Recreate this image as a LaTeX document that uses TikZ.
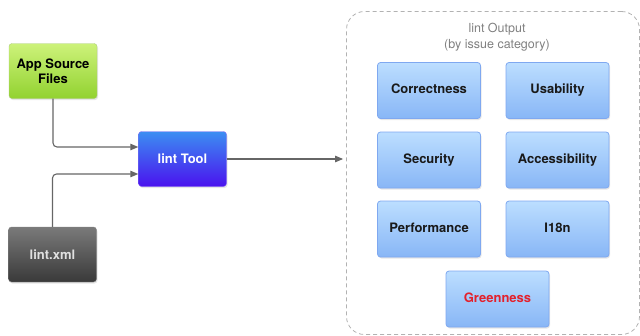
\documentclass[tikz,border=0pt]{standalone}
\usepackage{fontspec}
\setmainfont{TeX Gyre Heros}
\usetikzlibrary{arrows.meta,shadows}

\definecolor{srctop}{HTML}{CDF27A}
\definecolor{srcbot}{HTML}{92D230}
\definecolor{tooltop}{HTML}{3C8EF2}
\definecolor{toolbot}{HTML}{4A12EE}
\definecolor{xmltop}{HTML}{7A7A7A}
\definecolor{xmlbot}{HTML}{393939}
\definecolor{cattop}{HTML}{BCDEFF}
\definecolor{catbot}{HTML}{88B6F6}
\definecolor{catline}{HTML}{7FA8F0}
\definecolor{greenred}{HTML}{E3202C}

\tikzset{
  box/.style={rounded corners=3pt, minimum width=88pt, minimum height=55pt,
    align=center, font=\fontsize{13}{15}\selectfont\bfseries,
    drop shadow={opacity=0.2, shadow xshift=1pt, shadow yshift=-1.5pt}},
  srcbox/.style={box, draw=srcbot!80!black!60, top color=srctop, bottom color=srcbot},
  toolbox/.style={box, draw=toolbot!60, top color=tooltop, bottom color=toolbot, text=white},
  xmlbox/.style={box, draw=xmlbot!60, top color=xmltop, bottom color=xmlbot, text=white!88!black},
  catbox/.style={box, minimum width=103pt, minimum height=56pt, draw=catline,
    text height=1.6ex, text depth=0.4ex,
    line width=0.8pt, top color=cattop, bottom color=catbot, text=black!90},
  link/.style={draw=black!60, line width=1.1pt, rounded corners=4pt,
    -{Triangle[length=8pt,width=6.5pt]}}
}

\begin{document}
\begin{tikzpicture}[x=1pt,y=-1pt]
  \useasboundingbox (0,0) rectangle (640,335);

  % output frame
  \node [draw=black!30, dashed, dash pattern=on 4pt off 3pt, line width=0.8pt,
         rounded corners=18pt, minimum width=293pt, minimum height=323pt]
         (out) at (493,173) {};
  \node [align=center, text=black!50, font=\fontsize{12.5}{15.5}\selectfont]
         (title) at (497,37) {lint Output\\(by issue category)};

  % inputs and tool
  \node [srcbox] (src) at (53,71) {App Source\\Files};
  \node [toolbox] (tool) at (182.5,159) {lint Tool};
  \node [xmlbox] (xml) at (52.5,254.5) {lint.xml};

  % categories
  \node [catbox] (correct) at (429,90.5) {Correctness};
  \node [catbox] (usab) at (557.5,90.5) {Usability};
  \node [catbox] (secur) at (429,160) {Security};
  \node [catbox] (access) at (557.5,160) {Accessibility};
  \node [catbox] (perf) at (429,229) {Performance};
  \node [catbox] (intl) at (557.5,229) {I18n};
  \node [catbox, text=greenred] (green) at (497.5,299) {Greenness};

  % connectors
  \draw [link] (src.south) |- ([yshift=12pt]tool.west);
  \draw [link] (xml.north) |- ([yshift=-15pt]tool.west);
  \draw [link, shorten >=3pt] (tool.east) -- (tool.east -| out.west);
\end{tikzpicture}
\end{document}
